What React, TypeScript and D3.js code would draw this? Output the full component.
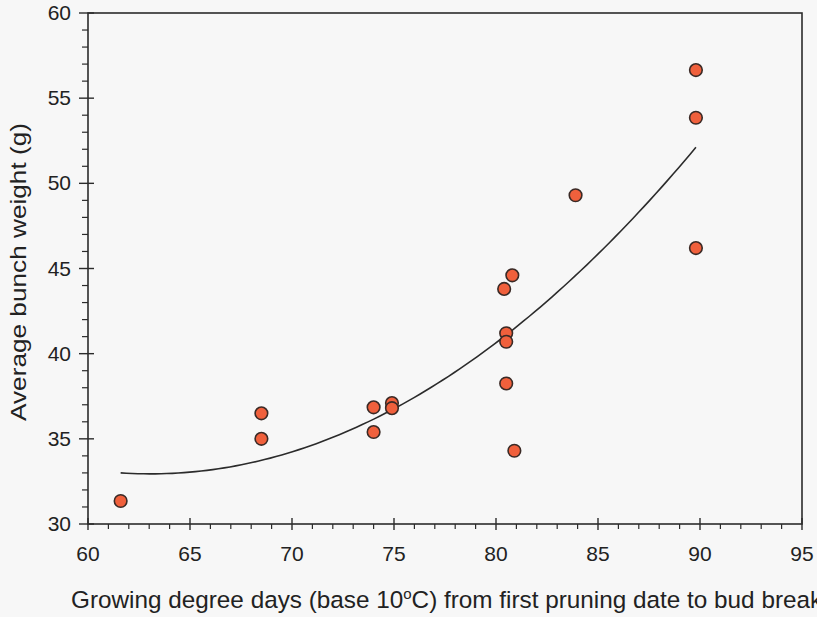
import React from "react";
import * as d3 from "d3";

const gddValues = [61.6, 68.5, 68.5, 74.0, 74.0, 74.9, 74.9, 80.4, 80.8, 80.5, 80.5, 80.5, 80.9, 83.9, 89.8, 89.8, 89.8];
const weightValues = [31.35, 36.5, 35.0, 36.85, 35.4, 37.1, 36.8, 43.8, 44.6, 41.2, 40.7, 38.25, 34.3, 49.3, 56.65, 53.85, 46.2];
const trendOrigin = 61.6;
const trendEnd = 89.8;
const trendCoefficients = [33.0, -0.078, 0.0268];
const xTicks = [60, 65, 70, 75, 80, 85, 90, 95];
const yTicks = [30, 35, 40, 45, 50, 55, 60];

const W = 817, H = 617;
const L = 88, R = 802, T = 13, B = 524;
const FONT = "'Liberation Sans', Arial, Helvetica, sans-serif";

export default function App() {
  const x = d3.scaleLinear().domain([60, 95]).range([L, R]);
  const y = d3.scaleLinear().domain([30, 60]).range([B, T]);
  const xMinor = d3.range(60, 96, 1).filter((v) => v % 5 !== 0);
  const yMinor = d3.range(30, 61, 1).filter((v) => v % 5 !== 0);
  const trendXs = d3.range(0, 101).map((i) => trendOrigin + ((trendEnd - trendOrigin) * i) / 100);
  const trend = (v: number) => {
    const u = v - trendOrigin;
    return trendCoefficients[0] + trendCoefficients[1] * u + trendCoefficients[2] * u * u;
  };
  const line = d3.line<number>().x((d) => x(d)).y((d) => y(trend(d)));
  const stroke = "#2b2b2b";
  return (
    <div style={{ position: "fixed", left: 0, top: 0, width: W, height: H, background: "#f7f7f7" }}>
      <svg width={W} height={H} style={{ display: "block" }}>
        <rect x={0} y={0} width={W} height={H} fill="#f7f7f7" />
        <rect x={L} y={T} width={R - L} height={B - T} fill="none" stroke={stroke} strokeWidth={1.6} />
        {xTicks.map((t) => (
          <g key={"xt" + t}>
            <line x1={x(t)} x2={x(t)} y1={B - 6} y2={B + 6} stroke={stroke} strokeWidth={1.4} />
            <text x={x(t)} y={B + 37} textAnchor="middle" fontFamily={FONT} fontSize={21} fill="#222">{t}</text>
          </g>
        ))}
        {xMinor.map((t) => (
          <line key={"xm" + t} x1={x(t)} x2={x(t)} y1={B} y2={B + 5} stroke={stroke} strokeWidth={1.2} />
        ))}
        {yTicks.map((t) => (
          <g key={"yt" + t}>
            <line x1={L - 9} x2={L + 6} y1={y(t)} y2={y(t)} stroke={stroke} strokeWidth={1.4} />
            <text x={L - 17} y={y(t) + 7} textAnchor="end" fontFamily={FONT} fontSize={21} fill="#222">{t}</text>
          </g>
        ))}
        {yMinor.map((t) => (
          <line key={"ym" + t} x1={L - 6} x2={L} y1={y(t)} y2={y(t)} stroke={stroke} strokeWidth={1.2} />
        ))}
        <path d={line(trendXs) || ""} fill="none" stroke={stroke} strokeWidth={1.6} />
        {gddValues.map((g, i) => (
          <circle key={"p" + i} cx={x(g)} cy={y(weightValues[i])} r={6.3} fill="#f0603c" stroke="#3a2a26" strokeWidth={1.6} />
        ))}
        <text transform={`translate(26, 272) rotate(-90)`} textAnchor="middle" fontFamily={FONT} fontSize={22}
          textLength={298} lengthAdjust="spacingAndGlyphs" fill="#222">
          Average bunch weight (g)
        </text>
        <text x={71} y={608} fontFamily={FONT} fontSize={24.3} fill="#222">
          Growing degree days (base 10
          <tspan dy={-9} fontSize={15}>o</tspan>
          <tspan dy={9}>C) from first pruning date to bud break</tspan>
        </text>
      </svg>
    </div>
  );
}
